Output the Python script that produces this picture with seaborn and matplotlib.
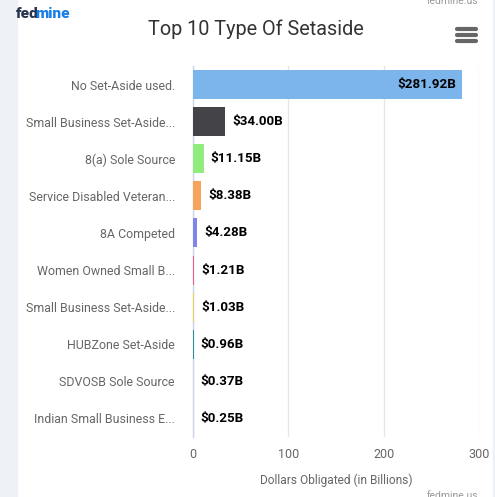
import matplotlib
matplotlib.use("Agg")
import matplotlib.pyplot as plt
import seaborn as sns
import pandas as pd
import numpy as np
from matplotlib.patches import Rectangle

categories = ["No Set-Aside used.", "Small Business Set-Aside...", "8(a) Sole Source",
              "Service Disabled Veteran...", "8A Competed", "Women Owned Small B...",
              "Small Business Set-Aside...", "HUBZone Set-Aside", "SDVOSB Sole Source",
              "Indian Small Business E..."]
values = [281.92, 34.00, 11.15, 8.38, 4.28, 1.21, 1.03, 0.96, 0.37, 0.25]
labels = ["$281.92B", "$34.00B", "$11.15B", "$8.38B", "$4.28B", "$1.21B", "$1.03B",
          "$0.96B", "$0.37B", "$0.25B"]
colors = ["#7cb5ec", "#434348", "#90ed7d", "#f7a35c", "#8085e9", "#f15c80",
          "#e4d354", "#2b908f", "#f45b5b", "#91e8e1"]
xticks = [0, 100, 200, 300]

sns.set_theme(style="white")
plt.rcParams['font.family'] = ['Roboto', 'DejaVu Sans']

fig = plt.figure(figsize=(4.95, 4.97), dpi=100)
fig.patch.set_facecolor("white")
# side strips
fig.add_artist(Rectangle((0, 0), 17/495, 1, transform=fig.transFigure, color="#eef1f6", zorder=0))
fig.add_artist(Rectangle((493/495, 0), 2/495, 1, transform=fig.transFigure, color="#eef1f6", zorder=0))

ax = fig.add_axes([193/495, 1 - 437/497, (479 - 193)/495, (437 - 66)/497])
ids = [f"c{i}" for i in range(len(categories))]
df = pd.DataFrame({"id": ids, "value": values})
sns.barplot(data=df, y="id", x="value", hue="id", palette=colors, orient="h",
            width=0.78, legend=False, ax=ax, saturation=1, zorder=3)
for p in ax.patches:
    p.set_edgecolor("none")

ax.set_xlim(0, 300)
ax.set_ylim(9.5, -0.5)
ax.set_xticks(xticks)
ax.set_xticklabels([str(t) for t in xticks], fontsize=9, color="#666666")
ax.set_yticks(range(len(categories)))
ax.set_yticklabels(categories, fontsize=8.9, color="#666666")
ax.tick_params(axis="y", which="major", length=0, pad=13)
ax.tick_params(axis="x", which="major", length=0, pad=8)
ax.set_yticks(np.arange(-0.5, len(categories), 1.0), minor=True)
ax.tick_params(axis="y", which="minor", length=10, width=1, color="#ccd6eb", direction="out")
ax.set_xlabel("Dollars Obligated (in Billions)", fontsize=8.6, color="#666666", labelpad=9)
ax.set_ylabel("")

for s in ["top", "right", "bottom"]:
    ax.spines[s].set_visible(False)
ax.spines["left"].set_color("#ccd6eb")
ax.spines["left"].set_linewidth(1)
ax.grid(axis="x", color="#e6e6e6", linewidth=1, zorder=0)
ax.grid(axis="y", visible=False)
ax.set_axisbelow(True)

for i, (v, lab) in enumerate(zip(values, labels)):
    if i == 0:
        ax.annotate(lab, (v, i), xytext=(-4, 0), textcoords="offset points",
                    ha="right", va="center", fontsize=9.6, fontweight="bold", color="black")
    else:
        ax.annotate(lab, (v, i), xytext=(5, 0), textcoords="offset points",
                    ha="left", va="center", fontsize=9.6, fontweight="bold", color="black")

fig.text(256/495, 1 - 29/497, "Top 10 Type Of Setaside", ha="center", va="center",
         fontsize=14.3, color="#333333")
# logo
t1 = fig.text(16/495, 1 - 14/497, "fed", ha="left", va="center", fontsize=11,
              fontweight="heavy", color="#2a3550")
fig.canvas.draw()
bb = t1.get_window_extent(fig.canvas.get_renderer())
fig.text((bb.x1 - 3) / fig.bbox.width, 1 - 14/497, "mine", ha="left", va="center", fontsize=11,
         fontweight="heavy", color="#1a7fe6")
fig.text(478/495, 1 - 1/497, "fedmine.us", ha="right", va="center", fontsize=7.5, color="#999999")
fig.text(478/495, 1 - 496/497, "fedmine.us", ha="right", va="center", fontsize=7.5, color="#999999")
# menu icon
for dy in (29, 35, 41):
    fig.add_artist(plt.Line2D([457/495, 476/495], [1 - dy/497, 1 - dy/497],
                              transform=fig.transFigure, color="#666666", linewidth=3,
                              solid_capstyle="round"))

fig.savefig("out.png", dpi=100)
